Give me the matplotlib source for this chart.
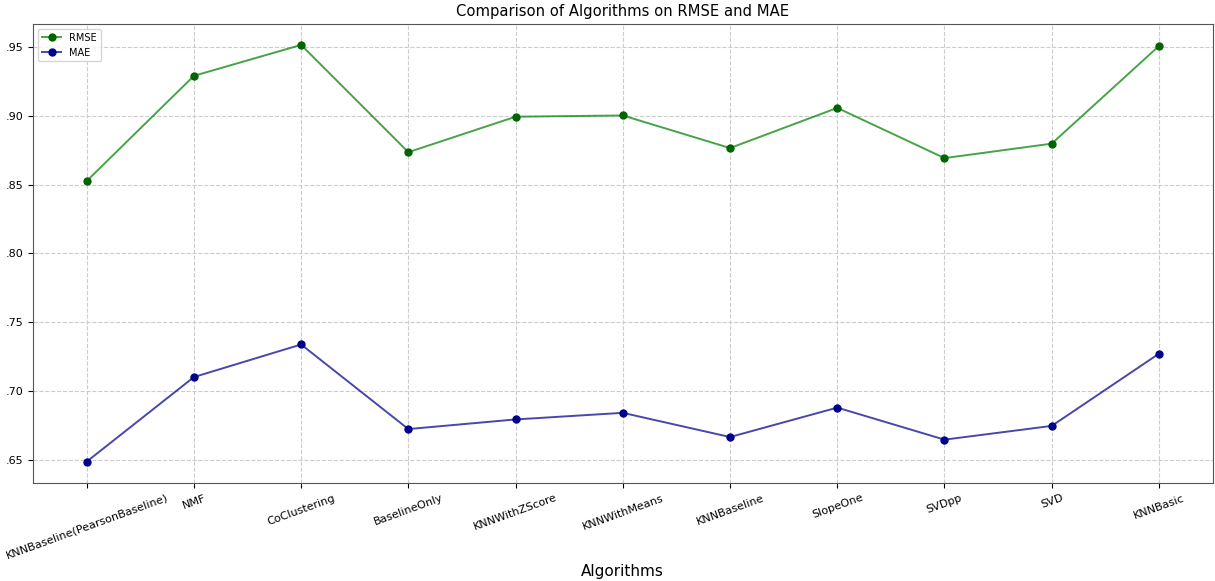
import matplotlib
matplotlib.use("Agg")
import matplotlib.pyplot as plt
from matplotlib.ticker import FuncFormatter

# data ----------------------------------------
algorithms = ["KNNBaseline(PearsonBaseline)", "NMF", "CoClustering", "BaselineOnly",
              "KNNWithZScore", "KNNWithMeans", "KNNBaseline", "SlopeOne",
              "SVDpp", "SVD", "KNNBasic"]
rmse = [0.8525, 0.929, 0.9515, 0.8735, 0.8993, 0.9002, 0.8765, 0.9057, 0.8692, 0.8797, 0.9507]
mae = [0.6485, 0.7100, 0.7337, 0.6722, 0.6792, 0.6840, 0.6664, 0.6878, 0.6645, 0.6745, 0.7270]
yticks = [0.65, 0.70, 0.75, 0.80, 0.85, 0.90, 0.95]
# ---------------------------------------------

fig = plt.figure(figsize=(12.15, 5.81), dpi=100)
ax = fig.add_axes([0.0272, 0.1687, 0.9708, 0.79])

x = range(len(algorithms))
ax.plot(x, rmse, marker="o", color=(0.0, 0.5, 0.0, 0.72), markerfacecolor="darkgreen",
        markeredgecolor="darkgreen", label="RMSE", linewidth=1.4, markersize=5)
ax.plot(x, mae, marker="o", color=(0.0, 0.0, 0.55, 0.72), markerfacecolor="darkblue",
        markeredgecolor="darkblue", label="MAE", linewidth=1.4, markersize=5)

ax.set_xticks(list(x))
ax.set_xticklabels(algorithms, rotation=20, fontsize=8)
ax.set_yticks(yticks)
ax.yaxis.set_major_formatter(FuncFormatter(lambda v, p: f"{v:.2f}"[1:]))
ax.tick_params(axis="y", labelsize=8)
ax.set_ylim(0.633, 0.9667)
ax.set_xlabel("Algorithms", fontsize=11, labelpad=2)
ax.set_title("Comparison of Algorithms on RMSE and MAE", fontsize=10.6)
ax.grid(True, linestyle="--", color="#cccccc", linewidth=0.8)
for s in ax.spines.values():
    s.set_color("#555555")
ax.legend(loc="upper left", fontsize=7)

fig.savefig("out.png", dpi=100)
